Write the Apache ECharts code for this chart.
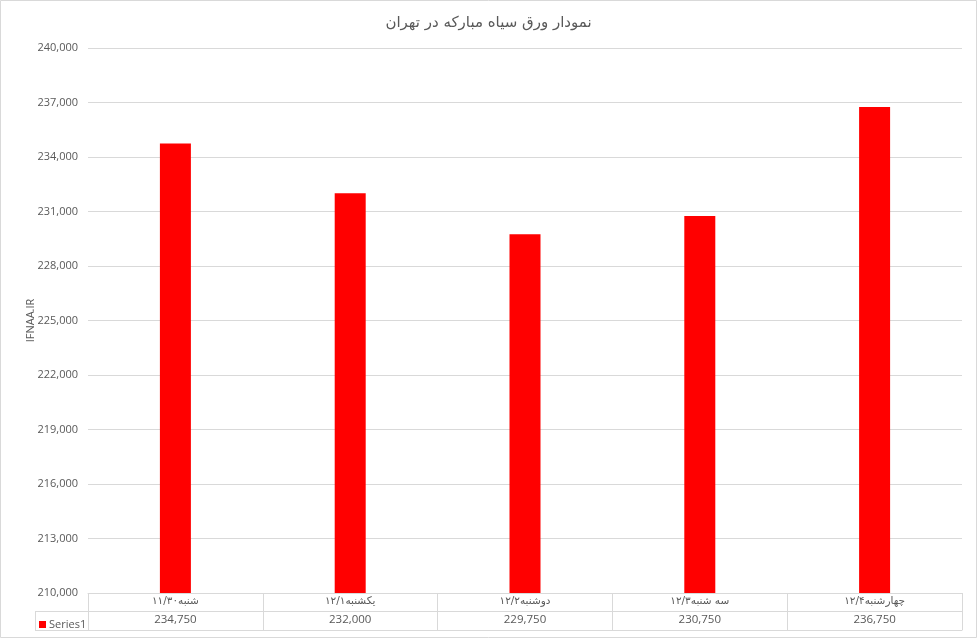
<!DOCTYPE html>
<html><head><meta charset="utf-8">
<script src="https://cdn.jsdelivr.net/npm/echarts@6/dist/echarts.min.js"></script>
<style>html,body{margin:0;padding:0;background:#fff}#c{width:977px;height:638px}</style>
</head><body><div id="c"></div>
<script>
const titleText = 'نمودار ورق سیاه مبارکه در تهران';
const categories = ['شنبه۱۱/۳۰', 'یکشنبه۱۲/۱', 'دوشنبه۱۲/۲', 'سه شنبه۱۲/۳', 'چهارشنبه۱۲/۴'];
const seriesName = 'Series1';
const values = [234750, 232000, 229750, 230750, 236750];
const yMin = 210000, yMax = 240000, yStep = 3000;
const yAxisName = 'IFNAA.IR';

const fmt = v => v.toLocaleString('en-US');
const grey = '#595959', lineC = '#d9d9d9';
const chart = echarts.init(document.getElementById('c'), null, {renderer:'canvas'});
chart.setOption({
  animation: false,
  backgroundColor: '#fff',
  title: {text: titleText, left: 'center', top: 11,
    textStyle: {fontFamily: 'DejaVu Sans', fontSize: 15, fontWeight: 'normal', color: grey}},
  legend: {data: [seriesName], left: 34, top: 614, icon: 'rect', itemWidth: 7, itemHeight: 7, itemGap: 4,
    itemStyle: {}, textStyle: {fontFamily: 'Open Sans', fontSize: 11, color: grey, padding: [0, 0, 0, -2]}},
  grid: {left: 88, right: 15, top: 48, bottom: 45, containLabel: false},
  xAxis: [
    {type: 'category', data: categories, position: 'bottom',
      axisLine: {lineStyle: {color: lineC}}, axisTick: {show: true, length: 37, lineStyle: {color: lineC}},
      axisLabel: {margin: 3, fontFamily: 'DejaVu Sans', fontSize: 10.5, color: grey}},
    {type: 'category', data: values.map(fmt), position: 'bottom', offset: 18,
      axisLine: {lineStyle: {color: lineC}}, axisTick: {show: false},
      axisLabel: {margin: 3, fontFamily: 'Open Sans', fontSize: 11.5, color: grey}},
    {type: 'category', data: categories, position: 'bottom', offset: 37,
      axisLine: {lineStyle: {color: lineC}}, axisTick: {show: false}, axisLabel: {show: false}}
  ],
  yAxis: {type: 'value', min: yMin, max: yMax, interval: yStep,
    name: yAxisName, nameLocation: 'middle', nameGap: 52, nameRotate: 90, nameMoveOverlap: false,
    nameTextStyle: {fontFamily: 'Open Sans', fontSize: 11, color: grey},
    axisLine: {show: false}, axisTick: {show: false},
    axisLabel: {margin: 10, formatter: fmt, fontFamily: 'Open Sans', fontSize: 11, color: grey},
    splitLine: {lineStyle: {color: lineC}}},
  series: [{name: seriesName, type: 'bar', data: values, barWidth: 31, xAxisIndex: 0,
    itemStyle: {color: '#ff0000'}}],
  graphic: [
    {type: 'rect', shape: {x: 0.5, y: 0.5, width: 976, height: 637}, style: {fill: 'none', stroke: lineC}, silent: true},
    {type: 'line', shape: {x1: 35, y1: 611.5, x2: 88, y2: 611.5}, style: {stroke: lineC}},
    {type: 'line', shape: {x1: 35, y1: 630.5, x2: 88, y2: 630.5}, style: {stroke: lineC}},
    {type: 'line', shape: {x1: 35.5, y1: 611, x2: 35.5, y2: 631}, style: {stroke: lineC}}
  ]
});
</script></body></html>
